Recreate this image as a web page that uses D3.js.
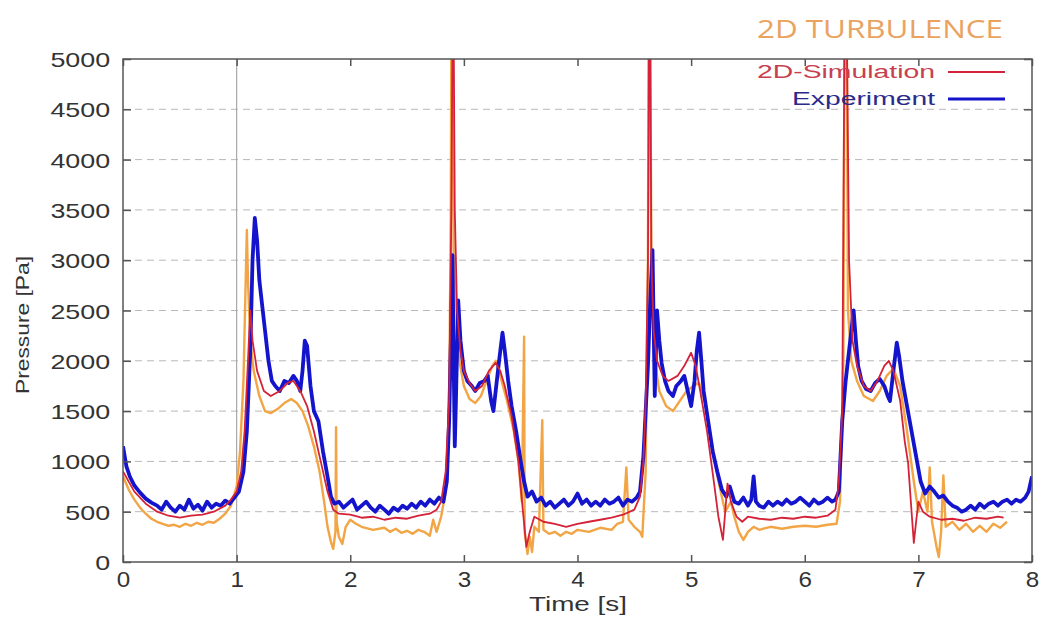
<!DOCTYPE html>
<html>
<head>
<meta charset="utf-8">
<script src="https://cdn.jsdelivr.net/npm/d3@7"></script>
<style>
  body { margin: 0; background: #fff; }
  svg { display: block; }
  .tick text { font-family: "Liberation Sans", Arial, sans-serif; fill: #333; }
</style>
</head>
<body>
<div id="chart"></div>
<script>
// values (time in s, pressure in Pa)
const expT = [0, 0.03, 0.06, 0.1, 0.15, 0.2, 0.25, 0.3, 0.34, 0.38, 0.42, 0.46, 0.5, 0.54, 0.58, 0.62, 0.66, 0.7, 0.74, 0.78, 0.82, 0.86, 0.9, 0.94, 0.98, 1.02, 1.06, 1.09, 1.12, 1.14, 1.16, 1.18, 1.2, 1.22, 1.25, 1.28, 1.31, 1.34, 1.38, 1.42, 1.46, 1.5, 1.53, 1.56, 1.58, 1.6, 1.62, 1.65, 1.68, 1.72, 1.76, 1.8, 1.83, 1.86, 1.9, 1.94, 1.98,
  2.02, 2.06, 2.1, 2.14, 2.18, 2.22, 2.26, 2.3, 2.34, 2.38, 2.42, 2.46, 2.5, 2.54, 2.58, 2.62, 2.66, 2.7, 2.74, 2.78, 2.82, 2.85, 2.87, 2.89, 2.9, 2.91, 2.92, 2.93, 2.95, 2.97, 3.0, 3.03, 3.07, 3.1, 3.14, 3.18, 3.21, 3.24, 3.26, 3.28, 3.31, 3.34, 3.36, 3.39, 3.42, 3.46, 3.5, 3.53, 3.56, 3.6, 3.64, 3.68, 3.72, 3.76, 3.8, 3.84, 3.88, 3.92, 3.96,
  4.0, 4.04, 4.08, 4.12, 4.16, 4.2, 4.24, 4.28, 4.32, 4.36, 4.4, 4.44, 4.48, 4.52, 4.55, 4.58, 4.6, 4.62, 4.64, 4.66, 4.68, 4.7, 4.72, 4.74, 4.77, 4.8, 4.84, 4.87, 4.91, 4.94, 4.97, 5.0, 5.03, 5.05, 5.07, 5.09, 5.11, 5.15, 5.19, 5.23, 5.27, 5.31, 5.34, 5.38, 5.42, 5.46, 5.5, 5.53, 5.55, 5.57, 5.6, 5.64, 5.68, 5.72, 5.76, 5.8, 5.84, 5.88, 5.92, 5.96,
  6.0, 6.04, 6.08, 6.12, 6.16, 6.2, 6.24, 6.27, 6.3, 6.33, 6.36, 6.38, 6.41, 6.43, 6.45, 6.47, 6.5, 6.54, 6.58, 6.62, 6.66, 6.7, 6.73, 6.75, 6.78, 6.81, 6.83, 6.86, 6.9, 6.94, 6.98, 7.02, 7.06, 7.1, 7.14, 7.18, 7.22, 7.26, 7.3, 7.34, 7.38, 7.42, 7.46, 7.5, 7.54, 7.58, 7.62, 7.66, 7.7, 7.74, 7.78, 7.82, 7.86, 7.9, 7.94, 7.97, 8.0];
const expP = [1150, 950, 850, 760, 690, 630, 590, 560, 520, 600, 540, 500, 560, 520, 620, 530, 570, 510, 600, 540, 580, 560, 610, 580, 640, 700, 900, 1300, 2100, 3000, 3420, 3200, 2800, 2600, 2300, 2000, 1800, 1750, 1700, 1800, 1780, 1850, 1800, 1700, 1900, 2200, 2150, 1750, 1500, 1400, 1100, 850, 650, 580, 600, 540, 580,
  620, 520, 560, 600, 540, 500, 560, 520, 480, 540, 510, 560, 530, 580, 540, 600, 560, 620, 580, 640, 600, 800, 1400, 2400, 3050, 2000, 1150, 1600, 2600, 2200, 1900, 1800, 1750, 1700, 1780, 1800, 1850, 1600, 1500, 1700, 2000, 2280, 2100, 1800, 1550, 1300, 1000, 800, 650, 700, 600, 640, 560, 600, 540, 580, 620, 560, 600,
  680, 580, 620, 560, 600, 560, 620, 580, 600, 640, 560, 620, 600, 640, 700, 1050, 1500, 1950, 2600, 3100, 1650, 2500, 2200, 1980, 1800, 1700, 1650, 1750, 1800, 1850, 1700, 1550, 1800, 2100, 2280, 2000, 1700, 1400, 1100, 900, 720, 650, 750, 600, 580, 640, 560, 620, 850, 600, 560, 540, 600, 560, 600, 570, 620, 580, 600, 640,
  600, 560, 620, 580, 600, 640, 600, 620, 700, 1400, 1800, 2000, 2300, 2500, 2200, 1950, 1800, 1720, 1700, 1780, 1820, 1750, 1650, 1600, 1900, 2180, 2050, 1800, 1550, 1300, 1050, 800, 680, 750, 700, 640, 660, 600, 560, 540, 500, 520, 560, 520, 580, 540, 580, 600, 560, 600, 620, 580, 620, 600, 640, 700, 850];

const simT = [0, 0.1, 0.2, 0.3, 0.4, 0.5, 0.6, 0.7, 0.8, 0.9, 0.95, 1.0, 1.04, 1.07, 1.1, 1.12, 1.14, 1.18, 1.24, 1.3, 1.38, 1.45, 1.5, 1.56, 1.62, 1.68, 1.74, 1.8, 1.85, 1.9,
  2.0, 2.1, 2.2, 2.3, 2.4, 2.5, 2.6, 2.7, 2.76, 2.8, 2.84, 2.87, 2.89, 2.9, 2.91, 2.92, 2.94, 2.97, 3.0, 3.05, 3.1, 3.16, 3.22, 3.28, 3.32, 3.36, 3.42, 3.48, 3.52, 3.55, 3.58, 3.62, 3.7, 3.8, 3.9,
  4.0, 4.1, 4.2, 4.3, 4.4, 4.5, 4.55, 4.58, 4.6, 4.62, 4.63, 4.64, 4.65, 4.67, 4.7, 4.75, 4.8, 4.88, 4.94, 5.0, 5.04, 5.08, 5.14, 5.2, 5.24, 5.28, 5.3, 5.32, 5.35, 5.4, 5.45, 5.5, 5.6, 5.7, 5.8, 5.9,
  6.0, 6.1, 6.2, 6.27, 6.3, 6.33, 6.35, 6.37, 6.39, 6.42, 6.46, 6.52, 6.58, 6.64, 6.7, 6.74, 6.78, 6.84, 6.88, 6.91, 6.94, 6.96, 6.98, 7.0, 7.04, 7.1, 7.2, 7.3, 7.4, 7.5, 7.6, 7.7, 7.75];
const simP = [900, 700, 580, 500, 460, 440, 460, 470, 500, 560, 620, 700, 900, 1300, 2000, 2500, 2200, 1900, 1700, 1650, 1700, 1780, 1800, 1700, 1550, 1300, 1000, 700, 520, 480,
  470, 440, 450, 420, 440, 430, 460, 480, 520, 600, 900, 1600, 3500, 5300, 5300, 3500, 2500, 2100, 1900, 1780, 1700, 1750, 1900, 1980, 1900, 1750, 1450, 1000, 500, 150, 300, 450, 400, 380, 350,
  380, 400, 420, 440, 470, 520, 650, 1000, 1600, 3000, 5300, 5300, 3000, 2300, 2000, 1850, 1800, 1850, 1950, 2080, 1950, 1700, 1300, 800, 450, 220, 500, 780, 600, 450, 400, 450, 430, 420, 440, 430,
  450, 440, 460, 520, 800, 1500, 5300, 5300, 3000, 2200, 1950, 1750, 1700, 1800, 1950, 2000, 1900, 1600, 1200, 980, 500, 190, 400, 600, 500, 450, 420, 430, 410, 440, 430, 450, 440];

const altT = [0, 0.05, 0.1, 0.15, 0.2, 0.25, 0.3, 0.35, 0.4, 0.45, 0.5, 0.55, 0.6, 0.65, 0.7, 0.75, 0.8, 0.85, 0.9, 0.95, 1.0, 1.03, 1.06, 1.08, 1.09, 1.1, 1.12, 1.15, 1.2, 1.25, 1.3, 1.36, 1.42, 1.48, 1.53, 1.58, 1.63, 1.68, 1.73, 1.77, 1.8, 1.83, 1.85, 1.87, 1.875, 1.88, 1.9, 1.93, 1.96,
  2.0, 2.05, 2.1, 2.2, 2.3, 2.35, 2.4, 2.45, 2.5, 2.55, 2.6, 2.65, 2.7, 2.73, 2.76, 2.8, 2.84, 2.87, 2.885, 2.89, 2.9, 2.91, 2.93, 2.96, 3.0, 3.05, 3.1, 3.15, 3.2, 3.25, 3.28, 3.32, 3.38, 3.44, 3.48, 3.51, 3.53, 3.535, 3.56, 3.58, 3.6, 3.62, 3.66, 3.69, 3.7, 3.75, 3.8, 3.85, 3.9, 3.95,
  4.0, 4.1, 4.2, 4.3, 4.35, 4.4, 4.43, 4.45, 4.5, 4.55, 4.57, 4.6, 4.62, 4.625, 4.64, 4.65, 4.68, 4.72, 4.78, 4.84, 4.9, 4.96, 5.02, 5.07, 5.12, 5.18, 5.24, 5.3, 5.35, 5.38, 5.42, 5.46, 5.5, 5.55, 5.6, 5.7, 5.8, 5.9,
  6.0, 6.1, 6.2, 6.28, 6.31, 6.34, 6.35, 6.37, 6.38, 6.41, 6.46, 6.52, 6.6, 6.66, 6.72, 6.78, 6.84, 6.9, 6.96, 7.0, 7.04, 7.08, 7.1, 7.12, 7.16, 7.18, 7.2, 7.22, 7.24, 7.3, 7.36, 7.42, 7.48, 7.54, 7.6, 7.66, 7.72, 7.78];
const altP = [850, 720, 620, 540, 480, 430, 400, 380, 360, 370, 350, 380, 360, 390, 370, 400, 390, 430, 480, 560, 750, 1100, 1800, 2800, 3300, 2800, 2200, 1900, 1650, 1500, 1480, 1520, 1580, 1620, 1580, 1500, 1350, 1150, 900, 600, 350, 200, 130, 300, 1340, 400, 250, 180, 350,
  420, 380, 350, 320, 340, 300, 330, 290, 310, 280, 320, 300, 260, 420, 300, 450, 700, 1500, 3500, 5300, 5300, 3000, 2600, 2000, 1750, 1620, 1580, 1650, 1800, 1950, 2000, 1850, 1600, 1300, 1000, 600, 2240, 300, 80, 250, 100, 350, 300, 1410, 320, 280, 300, 260, 300, 280,
  320, 300, 340, 320, 380, 400, 940, 420, 350, 300, 250, 900, 3000, 5300, 5300, 3000, 2000, 1700, 1550, 1500, 1600, 1700, 1750, 1780, 1600, 1200, 800, 500, 600, 450, 300, 220, 300, 350, 320, 350, 330, 350,
  360, 350, 370, 380, 600, 2000, 5300, 5300, 2500, 2000, 1800, 1650, 1600, 1700, 1850, 1920, 1750, 1300, 800, 500, 700, 500, 940, 400, 150, 50, 300, 860, 350, 400, 320, 380, 300, 360, 300, 380, 340, 400];

const xTicks = [0, 1, 2, 3, 4, 5, 6, 7, 8];
const yTicks = [0, 500, 1000, 1500, 2000, 2500, 3000, 3500, 4000, 4500, 5000];
const legendNames = ['2D-Simulation', 'Experiment'];

const W = 1041, H = 619;
const margin = { left: 123, right: 9, top: 59, bottom: 57 };
const w = W - margin.left - margin.right,
      h = H - margin.top - margin.bottom;

const svg = d3.select('#chart').append('svg').attr('width', W).attr('height', H);

const x = d3.scaleLinear().domain([0, 8]).range([0, w]),
      y = d3.scaleLinear().domain([0, 5000]).range([h, 0]);

const g = svg.append('g').attr('transform', 'translate(' + margin.left + ',' + margin.top + ')');

svg.append('defs').append('clipPath').attr('id', 'plot-clip')
    .append('rect').attr('width', w).attr('height', h);

// dashed grid
g.append('g').selectAll('line').data(yTicks.filter(d => d > 0 && d < 5000))
    .enter().append('line')
    .attr('x1', 0).attr('x2', w)
    .attr('y1', d => y(d)).attr('y2', d => y(d))
    .attr('stroke', '#b8b8b8').attr('stroke-width', 1).attr('stroke-dasharray', '7,5');

g.append('line')
    .attr('x1', x(1)).attr('x2', x(1)).attr('y1', 0).attr('y2', h)
    .attr('stroke', '#a8a8a8').attr('stroke-width', 1.2);

// lines
const line = d3.line()
    .x(d => x(d[0]))
    .y(d => y(d[1]));

const series = [
    { key: 'alt', t: altT, p: altP, color: '#f2a545', width: 2.4 },
    { key: 'exp', t: expT, p: expP, color: '#1414cc', width: 3.8 },
    { key: 'sim', t: simT, p: simP, color: '#d42238', width: 1.8 }
];

g.append('g').attr('clip-path', 'url(#plot-clip)')
  .selectAll('path').data(series)
    .enter().append('path')
    .attr('class', d => d.key + ' line')
    .attr('d', d => line(d.t.map((t, i) => [t, d.p[i]])))
    .attr('fill', 'none')
    .attr('stroke', d => d.color)
    .attr('stroke-width', d => d.width)
    .attr('stroke-linejoin', 'round');

// frame
g.append('rect').attr('width', w).attr('height', h)
    .attr('fill', 'none').attr('stroke', '#555').attr('stroke-width', 1.5);

// axes with inward ticks
const yAxis = g.append('g').call(d3.axisLeft(y).tickValues(yTicks).tickFormat(d3.format('d'))
    .tickSizeInner(-8).tickSizeOuter(0));
const yAxisR = g.append('g').attr('transform', 'translate(' + w + ',0)')
    .call(d3.axisRight(y).tickValues(yTicks).tickSizeInner(-8).tickSizeOuter(0).tickFormat(''));
const xAxis = g.append('g').attr('transform', 'translate(0,' + h + ')')
    .call(d3.axisBottom(x).tickValues(xTicks).tickFormat(d3.format('d')).tickSizeInner(-7).tickSizeOuter(0));
const xAxisT = g.append('g')
    .call(d3.axisTop(x).tickValues(xTicks).tickSizeInner(-7).tickSizeOuter(0).tickFormat(''));

[yAxis, yAxisR, xAxis, xAxisT].forEach(a => {
    a.select('.domain').remove();
    a.selectAll('.tick line').attr('stroke', '#555').attr('stroke-width', 1.5);
});

// labels look stretched sideways in the original
yAxis.selectAll('.tick text')
    .attr('font-size', 21)
    .attr('x', -10)
    .attr('dy', '0.36em')
    .attr('transform', 'scale(1.28,1)');
xAxis.selectAll('.tick text')
    .attr('font-size', 22)
    .attr('x', 0)
    .attr('y', 9)
    .attr('dy', '0.71em')
    .attr('transform', 'scale(1.1,1)');

// axis titles
svg.append('text')
    .attr('x', 578).attr('y', 611)
    .attr('text-anchor', 'middle')
    .attr('font-family', 'Liberation Sans, Arial, sans-serif')
    .attr('font-size', 20).attr('fill', '#333')
    .attr('textLength', 98).attr('lengthAdjust', 'spacingAndGlyphs')
    .text('Time [s]');

svg.append('text')
    .attr('transform', 'translate(29,325) rotate(-90)')
    .attr('text-anchor', 'middle')
    .attr('font-family', 'Liberation Sans, Arial, sans-serif')
    .attr('font-size', 19).attr('fill', '#333')
    .attr('textLength', 138).attr('lengthAdjust', 'spacingAndGlyphs')
    .text('Pressure [Pa]');

// title
svg.append('text')
    .attr('x', 757).attr('y', 38)
    .attr('font-family', 'Open Sans, sans-serif')
    .attr('font-size', 26).attr('fill', '#e9a35f')
    .attr('textLength', 246).attr('lengthAdjust', 'spacingAndGlyphs')
    .text('2D TURBULENCE');

// legend
const legend = svg.append('g').selectAll('g').data(legendNames)
    .enter().append('g')
    .attr('transform', (d, i) => 'translate(0,' + (72 + i * 27) + ')');

legend.append('text')
    .attr('x', 935).attr('dy', '0.35em')
    .attr('text-anchor', 'end')
    .attr('font-family', 'Liberation Sans, Arial, sans-serif')
    .attr('font-size', 18)
    .attr('fill', (d, i) => i ? '#2a2a8c' : '#c8404e')
    .attr('textLength', (d, i) => i ? 143 : 178)
    .attr('lengthAdjust', 'spacingAndGlyphs')
    .text(d => d);

legend.append('line')
    .attr('x1', 948).attr('x2', 1005)
    .attr('stroke', (d, i) => i ? '#1414cc' : '#d42238')
    .attr('stroke-width', (d, i) => i ? 3 : 2);
</script>
</body>
</html>
